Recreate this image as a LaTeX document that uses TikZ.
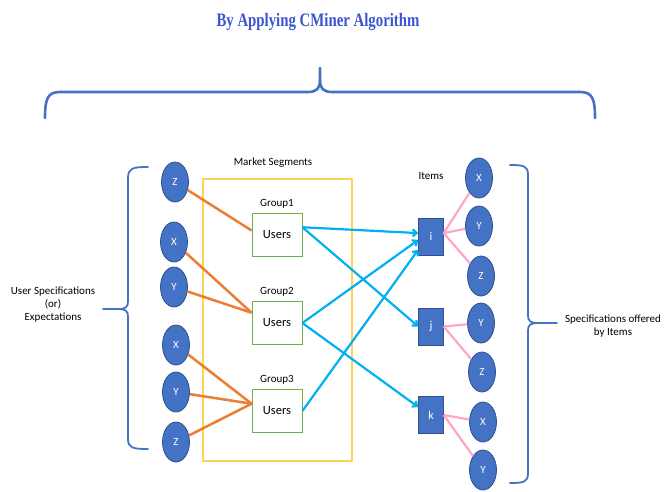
\documentclass[tikz,border=0pt]{standalone}
\usepackage{fontspec}
\setmainfont{Carlito}
\newfontfamily\titlefont{Liberation Serif}[FakeStretch=0.78]
\usetikzlibrary{arrows.meta, positioning, shapes.geometric}
\definecolor{nodeblue}{RGB}{68,114,196}
\definecolor{edgeblue}{RGB}{47,82,143}
\definecolor{segyellow}{RGB}{255,210,90}
\definecolor{grpgreen}{RGB}{112,173,71}
\definecolor{linkorange}{RGB}{237,125,49}
\definecolor{linkcyan}{RGB}{0,176,240}
\definecolor{linkpink}{RGB}{255,165,200}
\definecolor{titleblue}{RGB}{59,85,210}

\begin{document}
\begin{tikzpicture}[x=1pt, y=-1pt,
  spec/.style={ellipse, draw=edgeblue, thick, fill=nodeblue, text=white, minimum width=27pt, minimum height=40pt, inner sep=0pt, font=\fontsize{11}{12}\selectfont},
  users/.style={draw=grpgreen, thick, minimum width=50pt, minimum height=43pt, font=\fontsize{12.5}{14}\selectfont},
  item/.style={draw=edgeblue, fill=nodeblue, text=white, minimum width=25pt, minimum height=37pt, inner sep=0pt, font=\fontsize{12}{14}\selectfont},
  lbl/.style={font=\fontsize{11}{13}\selectfont, align=center, inner sep=0pt},
  brace/.style={draw=nodeblue, line width=1.8pt, line cap=round},
  tolink/.style={linkorange, line width=2.5pt},
  toitem/.style={linkcyan, line width=2.2pt, -{Straight Barb[length=4pt,width=7pt]}},
  offers/.style={linkpink, line width=2.2pt}]
  \useasboundingbox (0,0) rectangle (664,491);

  % Title and top brace
  \node[text=titleblue, font=\titlefont\bfseries\fontsize{19}{21}\selectfont] (title) at (318,22) {By Applying CMiner Algorithm};
  \draw[brace, line width=2.6pt] (45,118) .. controls (45,98) and (48,92) .. (60,92) -- (308,92) .. controls (317,92) and (320,88) .. (320,80) -- (320,68);
  \draw[brace, line width=2.6pt] (320,80) .. controls (320,88) and (323,92) .. (332,92) -- (580,92) .. controls (592,92) and (595,98) .. (595,118);

  % Market segments
  \node[draw=segyellow, line width=1.2pt, minimum width=149pt, minimum height=282pt] (seg) at (277.5,320) {};
  \node[lbl] (segl) at (273,163) {Market Segments};
  \node[users] (u1) at (277,235) {Users};
  \node[users] (u2) at (277,323) {Users};
  \node[users] (u3) at (277,411) {Users};
  \node[lbl, above=5pt of u1] (g1) {Group1};
  \node[lbl, above=5pt of u2] (g2) {Group2};
  \node[lbl, above=5pt of u3] (g3) {Group3};

  % User side specifications
  \node[spec] (lz1) at (175,182) {Z};
  \node[spec] (lx2) at (174,242) {X};
  \node[spec] (ly2) at (174,287) {Y};
  \node[spec] (lx3) at (176,345) {X};
  \node[spec] (ly3) at (176,392) {Y};
  \node[spec] (lz3) at (176,442) {Z};
  \draw[brace] (148,167) .. controls (133,167) and (128,168) .. (128,178) -- (128,301) .. controls (128,307) and (126,309) .. (118,309) -- (103,309);
  \draw[brace] (118,309) .. controls (126,309) and (128,311) .. (128,317) -- (128,439) .. controls (128,448) and (133,449) .. (148,449);
  \node[lbl] (ulbl) at (53,305) {User Specifications\\(or)\\Expectations};

  % Items
  \node[lbl] (iteml) at (431,176) {Items};
  \node[item] (iti) at (431,236.5) {i};
  \node[item] (itj) at (431,326.5) {j};
  \node[item] (itk) at (431,415) {k};

  % Item side specifications
  \node[spec] (rx1) at (479,178) {X};
  \node[spec] (ry1) at (479,226) {Y};
  \node[spec] (rz1) at (481,276) {Z};
  \node[spec] (ry2) at (481,323) {Y};
  \node[spec] (rz2) at (482,372) {Z};
  \node[spec] (rx3) at (483,422) {X};
  \node[spec] (ry3) at (483,470) {Y};
  \draw[brace] (510,165) .. controls (524,165) and (528,166) .. (528,175) -- (528,315) .. controls (528,321) and (530,323) .. (538,323) -- (557,323);
  \draw[brace] (538,323) .. controls (530,323) and (528,325) .. (528,331) -- (528,473) .. controls (528,482) and (524,483) .. (510,483);
  \node[lbl] (rlbl) at (613,326) {Specifications offered\\by Items};

  % Orange links
  \draw[tolink] (lz1) -- (u1.170);
  \draw[tolink] (lx2) -- (u2.158);
  \draw[tolink] (ly2) -- (u2.158);
  \draw[tolink] (lx3) -- (u3.164);
  \draw[tolink] (ly3) -- (u3.164);
  \draw[tolink] (lz3) -- (u3.164);

  % Cyan arrows
  \draw[toitem] (u1.17) -- (iti.165);
  \draw[toitem] (u1.17) -- (itj.west);
  \draw[toitem] (u2.east) -- (iti.195);
  \draw[toitem] (u2.east) -- (itk.148);
  \draw[toitem] (u3.east) -- (iti.226);

  % Pink links
  \draw[offers] (iti.15) -- (rx1);
  \draw[offers] (iti.15) -- (ry1);
  \draw[offers] (iti.15) -- (rz1);
  \draw[offers] (itj.east) -- (ry2);
  \draw[offers] (itj.east) -- (rz2);
  \draw[offers] (itk.east) -- (rx3);
  \draw[offers] (itk.east) -- (ry3);
\end{tikzpicture}
\end{document}
